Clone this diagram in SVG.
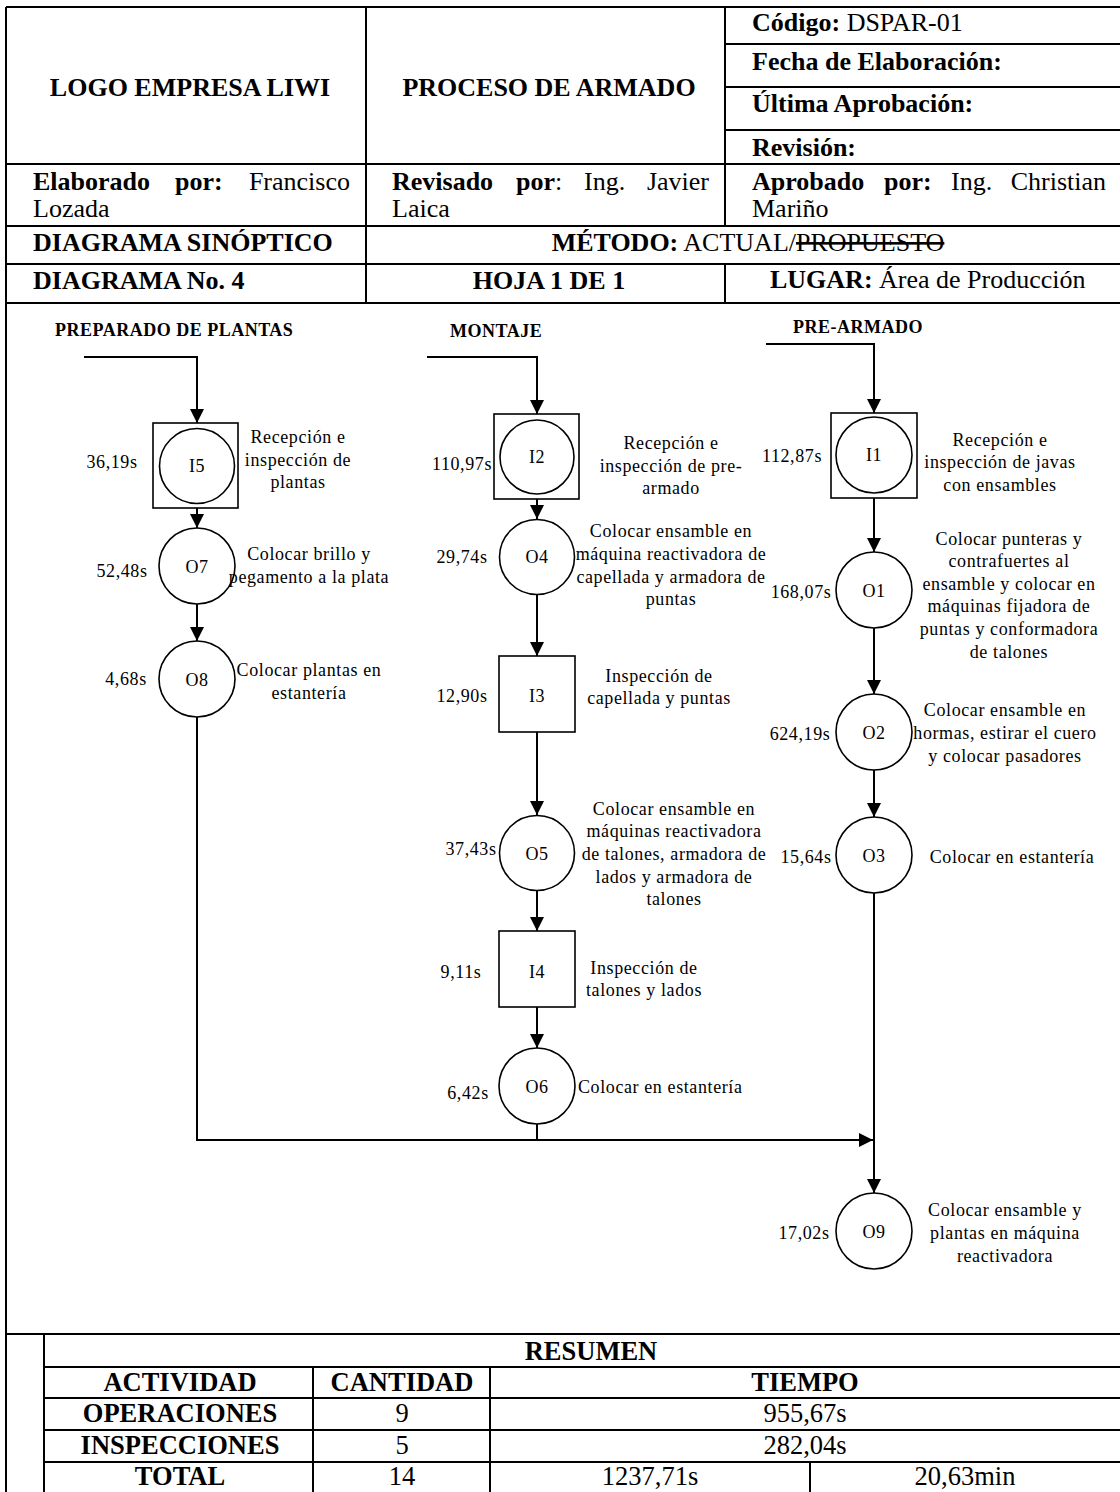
<svg xmlns="http://www.w3.org/2000/svg" width="1120" height="1492" viewBox="0 0 1120 1492">
  <style>
    text { font-family: "Liberation Serif", "Times New Roman", serif; fill: #000; }
    .hd { font-size: 26px; }
    .b { font-weight: bold; }
    .sec { font-size: 18px; font-weight: bold; letter-spacing: 0.5px; }
    .t { font-size: 18px; letter-spacing: 0.6px; }
    .c { text-anchor: middle; }
    .e { text-anchor: end; }
    .tb { font-size: 26.5px; }
    .frame { stroke: #000; stroke-width: 2; fill: none; }
    .shape { stroke: #000; stroke-width: 1.6; fill: #fff; }
    .conn { stroke: #000; stroke-width: 2; fill: none; }
  </style>
  <defs>
    <marker id="arr" viewBox="0 0 14 14" refX="14" refY="7" markerWidth="14" markerHeight="14" orient="auto" markerUnits="userSpaceOnUse">
      <path d="M0,0 L14,7 L0,14 z" fill="#000"/>
    </marker>
  </defs>

  <rect width="1120" height="1492" fill="#fff"/>

  <!-- header grid -->
  <g id="header-grid" class="frame">
    <path d="M6,7 H1121"/>
    <path d="M6,7 V1492"/>
    <path d="M366,7 V303"/>
    <path d="M725,7 V226 M725,264 V303"/>
    <path d="M725,44 H1121 M725,87 H1121 M725,130 H1121"/>
    <path d="M6,164 H1121 M6,226 H1121 M6,264 H1121 M6,303 H1121"/>
  </g>

  <g id="header-text" class="hd">
    <text class="b c" x="190" y="96">LOGO EMPRESA LIWI</text>
    <text class="b c" x="549" y="96">PROCESO DE ARMADO</text>
    <text x="752" y="31"><tspan class="b">Código:</tspan> DSPAR-01</text>
    <text class="b" x="752" y="70">Fecha de Elaboración:</text>
    <text class="b" x="752" y="112">Última Aprobación:</text>
    <text class="b" x="752" y="156">Revisión:</text>

    <text class="b" x="33" y="190">Elaborado</text>
    <text class="b" x="175" y="190">por:</text>
    <text class="e" x="350" y="190">Francisco</text>
    <text x="33" y="217">Lozada</text>

    <text class="b" x="392" y="190">Revisado</text>
    <text x="516" y="190"><tspan class="b">por</tspan>:</text>
    <text x="584" y="190">Ing.</text>
    <text class="e" x="709" y="190">Javier</text>
    <text x="392" y="217">Laica</text>

    <text class="b" x="752" y="190">Aprobado</text>
    <text class="b" x="884" y="190">por:</text>
    <text x="951" y="190">Ing.</text>
    <text class="e" x="1106" y="190">Christian</text>
    <text x="752" y="217">Mariño</text>

    <text class="b" x="33" y="251">DIAGRAMA SINÓPTICO</text>
    <text class="c" x="748" y="251"><tspan class="b">MÉTODO:</tspan> ACTUAL/<tspan text-decoration="line-through">PROPUESTO</tspan></text>

    <text class="b" x="33" y="289">DIAGRAMA No. 4</text>
    <text class="b c" x="549" y="289">HOJA 1 DE 1</text>
    <text x="770" y="288"><tspan class="b">LUGAR:</tspan> Área de Producción</text>
  </g>

  <!-- process section titles -->
  <g id="sections" class="sec">
    <text x="55" y="336">PREPARADO DE PLANTAS</text>
    <text x="450" y="337">MONTAJE</text>
    <text x="793" y="333">PRE-ARMADO</text>
  </g>

  <!-- connectors -->
  <g id="connectors" class="conn">
    <path d="M84,357 H197 V423" marker-end="url(#arr)"/>
    <path d="M197,508 V528" marker-end="url(#arr)"/>
    <path d="M197,604 V641" marker-end="url(#arr)"/>
    <path d="M197,717 V1140 H873" marker-end="url(#arr)"/>

    <path d="M427,357 H537 V414" marker-end="url(#arr)"/>
    <path d="M537,499 V519" marker-end="url(#arr)"/>
    <path d="M537,594 V656" marker-end="url(#arr)"/>
    <path d="M537,732 V815" marker-end="url(#arr)"/>
    <path d="M537,891 V931" marker-end="url(#arr)"/>
    <path d="M537,1007 V1048" marker-end="url(#arr)"/>
    <path d="M537,1124 V1140"/>

    <path d="M766,344 H874 V413" marker-end="url(#arr)"/>
    <path d="M874,498 V552" marker-end="url(#arr)"/>
    <path d="M874,628 V694" marker-end="url(#arr)"/>
    <path d="M874,770 V817" marker-end="url(#arr)"/>
    <path d="M874,893 V1193" marker-end="url(#arr)"/>
  </g>

  <!-- PREPARADO DE PLANTAS -->
  <g id="I5" class="t">
    <rect class="shape" x="153" y="423" width="85" height="85"/>
    <circle class="shape" cx="197" cy="466" r="37.5"/>
    <text class="c" x="197" y="472">I5</text>
    <text class="c" x="112" y="468">36,19s</text>
    <text class="c" x="298" y="443">Recepción e</text>
    <text class="c" x="298" y="466">inspección de</text>
    <text class="c" x="298" y="488">plantas</text>
  </g>
  <g id="O7" class="t">
    <circle class="shape" cx="197" cy="566" r="38"/>
    <text class="c" x="197" y="573">O7</text>
    <text class="c" x="122" y="577">52,48s</text>
    <text class="c" x="309" y="560">Colocar brillo y</text>
    <text class="c" x="309" y="583">pegamento a la plata</text>
  </g>
  <g id="O8" class="t">
    <circle class="shape" cx="197" cy="679" r="38"/>
    <text class="c" x="197" y="686">O8</text>
    <text class="c" x="126" y="685">4,68s</text>
    <text class="c" x="309" y="676">Colocar plantas en</text>
    <text class="c" x="309" y="699">estantería</text>
  </g>

  <!-- MONTAJE -->
  <g id="I2" class="t">
    <rect class="shape" x="494" y="414" width="85" height="85"/>
    <circle class="shape" cx="537" cy="457" r="37"/>
    <text class="c" x="537" y="463">I2</text>
    <text class="c" x="462" y="470">110,97s</text>
    <text class="c" x="671" y="449">Recepción e</text>
    <text class="c" x="671" y="472">inspección de pre-</text>
    <text class="c" x="671" y="494">armado</text>
  </g>
  <g id="O4" class="t">
    <circle class="shape" cx="537" cy="557" r="37.5"/>
    <text class="c" x="537" y="563">O4</text>
    <text class="c" x="462" y="563">29,74s</text>
    <text class="c" x="671" y="537">Colocar ensamble en</text>
    <text class="c" x="671" y="560">máquina reactivadora de</text>
    <text class="c" x="671" y="583">capellada y armadora de</text>
    <text class="c" x="671" y="605">puntas</text>
  </g>
  <g id="I3" class="t">
    <rect class="shape" x="499" y="656" width="76" height="76"/>
    <text class="c" x="537" y="702">I3</text>
    <text class="c" x="462" y="702">12,90s</text>
    <text class="c" x="659" y="682">Inspección de</text>
    <text class="c" x="659" y="704">capellada y puntas</text>
  </g>
  <g id="O5" class="t">
    <circle class="shape" cx="537" cy="853" r="37.5"/>
    <text class="c" x="537" y="860">O5</text>
    <text class="c" x="471" y="855">37,43s</text>
    <text class="c" x="674" y="815">Colocar ensamble en</text>
    <text class="c" x="674" y="837">máquinas reactivadora</text>
    <text class="c" x="674" y="860">de talones, armadora de</text>
    <text class="c" x="674" y="883">lados y armadora de</text>
    <text class="c" x="674" y="905">talones</text>
  </g>
  <g id="I4" class="t">
    <rect class="shape" x="499" y="931" width="76" height="76"/>
    <text class="c" x="537" y="978">I4</text>
    <text class="c" x="461" y="978">9,11s</text>
    <text class="c" x="644" y="974">Inspección de</text>
    <text class="c" x="644" y="996">talones y lados</text>
  </g>
  <g id="O6" class="t">
    <circle class="shape" cx="537" cy="1086" r="38"/>
    <text class="c" x="537" y="1093">O6</text>
    <text class="c" x="468" y="1099">6,42s</text>
    <text x="578" y="1093">Colocar en estantería</text>
  </g>

  <!-- PRE-ARMADO -->
  <g id="I1" class="t">
    <rect class="shape" x="831" y="413" width="86" height="85"/>
    <circle class="shape" cx="874" cy="455" r="38"/>
    <text class="c" x="874" y="461">I1</text>
    <text class="c" x="792" y="462">112,87s</text>
    <text class="c" x="1000" y="446">Recepción e</text>
    <text class="c" x="1000" y="468">inspección de javas</text>
    <text class="c" x="1000" y="491">con ensambles</text>
  </g>
  <g id="O1" class="t">
    <circle class="shape" cx="874" cy="590" r="38"/>
    <text class="c" x="874" y="597">O1</text>
    <text class="c" x="801" y="598">168,07s</text>
    <text class="c" x="1009" y="545">Colocar punteras y</text>
    <text class="c" x="1009" y="567">contrafuertes al</text>
    <text class="c" x="1009" y="590">ensamble y colocar en</text>
    <text class="c" x="1009" y="612">máquinas fijadora de</text>
    <text class="c" x="1009" y="635">puntas y conformadora</text>
    <text class="c" x="1009" y="658">de talones</text>
  </g>
  <g id="O2" class="t">
    <circle class="shape" cx="874" cy="732" r="38"/>
    <text class="c" x="874" y="739">O2</text>
    <text class="c" x="800" y="740">624,19s</text>
    <text class="c" x="1005" y="716">Colocar ensamble en</text>
    <text class="c" x="1005" y="739">hormas, estirar el cuero</text>
    <text class="c" x="1005" y="762">y colocar pasadores</text>
  </g>
  <g id="O3" class="t">
    <circle class="shape" cx="874" cy="855" r="38"/>
    <text class="c" x="874" y="862">O3</text>
    <text class="c" x="806" y="863">15,64s</text>
    <text class="c" x="1012" y="863">Colocar en estantería</text>
  </g>
  <g id="O9" class="t">
    <circle class="shape" cx="874" cy="1231" r="38"/>
    <text class="c" x="874" y="1238">O9</text>
    <text class="c" x="804" y="1239">17,02s</text>
    <text class="c" x="1005" y="1216">Colocar ensamble y</text>
    <text class="c" x="1005" y="1239">plantas en máquina</text>
    <text class="c" x="1005" y="1262">reactivadora</text>
  </g>

  <!-- summary table -->
  <g id="summary-grid" class="frame">
    <path d="M6,1334 H1121"/>
    <path d="M44,1334 V1492"/>
    <path d="M44,1367 H1121 M44,1398 H1121 M44,1430 H1121 M44,1462 H1121"/>
    <path d="M313,1367 V1492 M490,1367 V1492 M810,1462 V1492"/>
  </g>
  <g id="summary-text" class="tb">
    <text class="b c" x="591" y="1360">RESUMEN</text>
    <text class="b c" x="180" y="1391">ACTIVIDAD</text>
    <text class="b c" x="402" y="1391">CANTIDAD</text>
    <text class="b c" x="805" y="1391">TIEMPO</text>
    <text class="b c" x="180" y="1422">OPERACIONES</text>
    <text class="c" x="402" y="1422">9</text>
    <text class="c" x="805" y="1422">955,67s</text>
    <text class="b c" x="180" y="1454">INSPECCIONES</text>
    <text class="c" x="402" y="1454">5</text>
    <text class="c" x="805" y="1454">282,04s</text>
    <text class="b c" x="180" y="1485">TOTAL</text>
    <text class="c" x="402" y="1485">14</text>
    <text class="c" x="650" y="1485">1237,71s</text>
    <text class="c" x="965" y="1485">20,63min</text>
  </g>
</svg>
